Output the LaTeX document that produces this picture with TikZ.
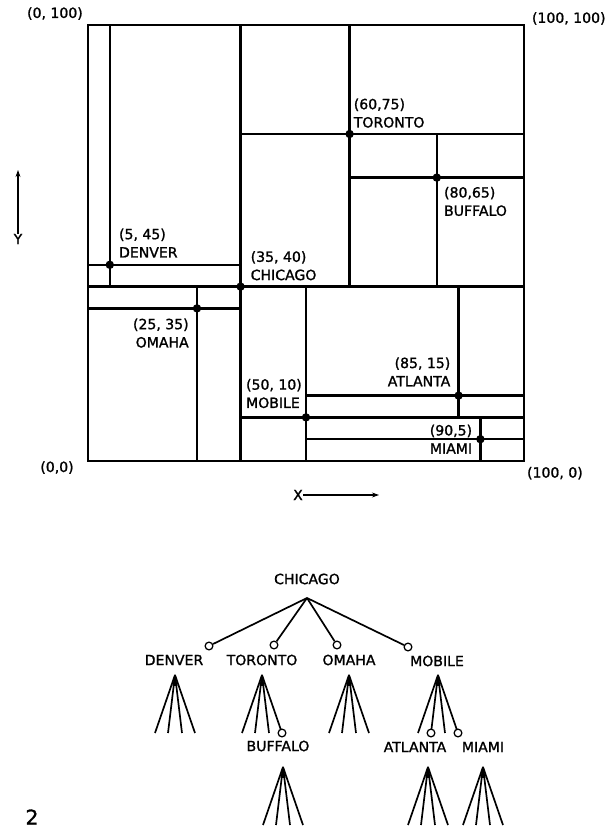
\documentclass[tikz,border=0pt]{standalone}
\usepackage{fontspec}
\setmainfont{DejaVu Sans}[FakeBold=1.3]
\usetikzlibrary{positioning,calc,arrows.meta}

\begin{document}
\begin{tikzpicture}[
            x=0.25mm, y=0.25mm, % 1 单位 = 1 像素
            mapline/.style={line width=1.6pt},
            dot/.style={circle, fill=black, inner sep=0pt, minimum size=6pt},
            maplabel/.style={inner sep=0pt, align=left, font=\fontsize{10}{13}\selectfont},
            corner/.style={inner sep=0pt, font=\fontsize{10}{12}\selectfont},
            city/.style={inner sep=0pt, font=\fontsize{10}{12}\selectfont},
            ring/.style={circle, draw, fill=white, line width=0.9pt, inner sep=0pt, minimum size=5.5pt},
            branch/.style={line width=1.2pt},
            axis/.style={line width=0.8pt, -{Stealth[length=5pt, width=3.5pt]}}
        ]
        \useasboundingbox (0,0) rectangle (613,831);

        % 区域划分 (坐标 0..100)
        \begin{scope}[shift={(88,370)}, scale=4.36]
            \draw[mapline] (0,0) rectangle (100,100);
            \draw[mapline] (0,40) -- (100,40) (35,0) -- (35,100);   % CHICAGO
            \draw[mapline] (0,45) -- (35,45) (5,40) -- (5,100);     % DENVER
            \draw[mapline] (35,75) -- (100,75) (60,40) -- (60,100); % TORONTO
            \draw[mapline] (60,65) -- (100,65) (80,40) -- (80,75);  % BUFFALO
            \draw[mapline] (0,35) -- (35,35) (25,0) -- (25,40);     % OMAHA
            \draw[mapline] (35,10) -- (100,10) (50,0) -- (50,40);   % MOBILE
            \draw[mapline] (50,15) -- (100,15) (85,10) -- (85,40);  % ATLANTA
            \draw[mapline] (50,5) -- (100,5) (90,0) -- (90,10);     % MIAMI

            % 城市点
            \node (chicago) [dot] at (35,40) {};
            \node (denver) [dot] at (5,45) {};
            \node (toronto) [dot] at (60,75) {};
            \node (buffalo) [dot] at (80,65) {};
            \node (omaha) [dot] at (25,35) {};
            \node (mobile) [dot] at (50,10) {};
            \node (atlanta) [dot] at (85,15) {};
            \node (miami) [dot] at (90,5) {};

            \coordinate (sw) at (0,0);
            \coordinate (se) at (100,0);
            \coordinate (nw) at (0,100);
            \coordinate (ne) at (100,100);
        \end{scope}

        % 角点标注
        \node (c-nw) [corner, above left=3.5pt and 3.5pt of nw] {(0, 100)};
        \node (c-ne) [corner, above right=0pt and 5.5pt of ne] {(100, 100)};
        \node (c-sw) [corner, below left=0pt and 10pt of sw] {(0,0)};
        \node (c-se) [corner, below right=4pt and 2pt of se] {(100, 0)};

        % 城市标注
        \node (denver-l) [maplabel, above right=5pt and 6.4pt of denver.center] {(5, 45)\\DENVER};
        \node (chicago-l) [maplabel, above right=4.3pt and 7pt of chicago.center] {(35, 40)\\CHICAGO};
        \node (toronto-l) [maplabel, above right=4.3pt and 2.8pt of toronto.center] {(60,75)\\TORONTO};
        \node (buffalo-l) [maplabel, below right=6.4pt and 5pt of buffalo.center] {(80,65)\\BUFFALO};
        \node (omaha-l) [maplabel, align=right, below left=7pt and 5.7pt of omaha.center] {(25, 35)\\OMAHA};
        \node (mobile-l) [maplabel, above left=6.4pt and 2.8pt of mobile.center] {(50, 10)\\MOBILE};
        \node (atlanta-l) [maplabel, align=right, above left=6.4pt and 5.7pt of atlanta.center] {(85, 15)\\ATLANTA};
        \node (miami-l) [maplabel, align=right, left=5.7pt of miami.center] {(90,5)\\MIAMI};

        % 坐标轴
        \node (ylab) [city] at (18,592) {Y};
        \coordinate (ytip) at (18,661);
        \draw[axis] (ylab.north) -- (ytip);
        \node (xlab) [city] at (298,336) {X};
        \coordinate (xtip) at (379,336);
        \draw[axis] (xlab.east) -- (xtip);

        % 四叉树
        \node (t-chi) [city] at (307,252) {CHICAGO};
        \coordinate (chi-a) at (307,233);
        \node (r-den) [ring] at (209,185) {};
        \node (r-tor) [ring] at (274,186) {};
        \node (r-oma) [ring] at (337,186) {};
        \node (r-mob) [ring] at (408,184) {};
        \foreach \r in {den,tor,oma,mob}
            \draw[branch] (chi-a) -- (r-\r);

        \node (t-den) [city] at (174,171) {DENVER};
        \node (t-tor) [city] at (262,171) {TORONTO};
        \node (t-oma) [city] at (349,171) {OMAHA};
        \node (t-mob) [city] at (437,170) {MOBILE};
        \node (t-buf) [city] at (278,85) {BUFFALO};
        \node (t-atl) [city] at (415,84) {ATLANTA};
        \node (t-mia) [city] at (483,84) {MIAMI};

        % 子树扇形
        \foreach \f/\x/\y in {den/175/156, tor/262/156, oma/349/156, mob/438/156, buf/283/64, atl/428/64, mia/483/64} {
            \coordinate (\f-a) at (\x,\y);
            \fill (\f-a) -- ++(-2.5,-11) -- ++(5,0) -- cycle;
            \foreach \dx [count=\i] in {-20,-7,7,20}
                \coordinate (\f-\i) at ($(\f-a)+(\dx,-58)$);
            \foreach \i in {1,...,4}
                \draw[branch] (\f-a) -- (\f-\i);
        }
        \node (r-buf) [ring] at (tor-4) {};
        \node (r-atl) [ring] at (mob-2) {};
        \node (r-mia) [ring] at (mob-4) {};

        \node (fignum) [font=\fontsize{14.5}{16}\selectfont] at (32,14) {2};
\end{tikzpicture}
\end{document}
